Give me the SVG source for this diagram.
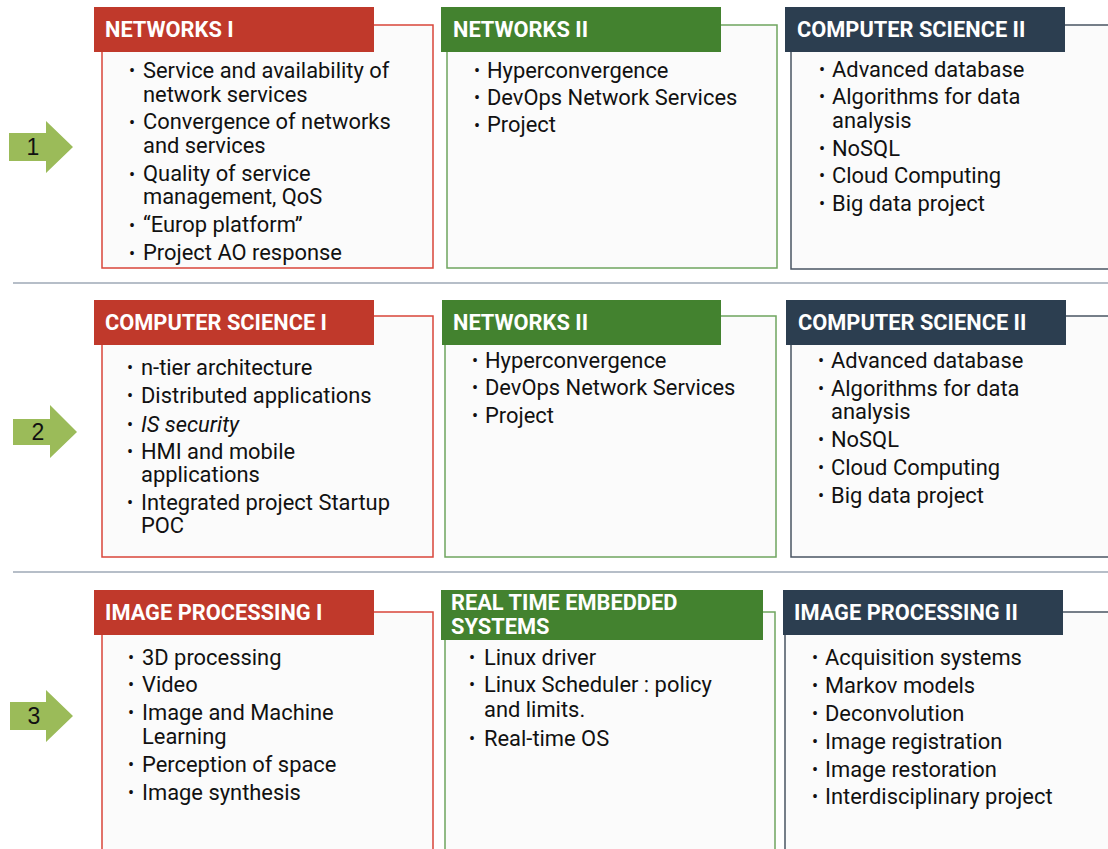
<svg xmlns="http://www.w3.org/2000/svg" width="1108" height="849" viewBox="0 0 1108 849">
<style>
.box{fill:#fbfbfb;stroke-width:1.5}
.red{stroke:#d9453a}
.grn{stroke:#6fa55f}
.nav{stroke:#4a5563}
.hr{fill:#c0392b}
.hg{fill:#43822f}
.hn{fill:#2c3e50}
.ht{font-family:Roboto,"Liberation Sans",sans-serif;font-weight:bold;font-size:21.8px;fill:#ffffff}
.t{font-family:Roboto,"Liberation Sans",sans-serif;font-size:21.9px;fill:#111111}
.b{font-family:Roboto,"Liberation Sans",sans-serif;font-size:18px;fill:#111111}
.arr{fill:#9bbb59}
.num{font-family:"Liberation Sans",Arial,sans-serif;font-size:23px;fill:#111111}
.sep{stroke:#9ea8b6;stroke-width:1.5}
</style>
<rect width="1108" height="849" fill="#ffffff"/>
<g id="separators">
<line class="sep" x1="13" y1="283" x2="1108" y2="283"/>
<line class="sep" x1="13" y1="572" x2="1108" y2="572"/>
</g>
<g id="arrow1">
<polygon class="arr" points="9,133 46,133 46,121 73,147 46,173 46,161 9,161"/>
<text class="num" x="33" y="155" text-anchor="middle">1</text>
</g>
<g id="arrow2">
<polygon class="arr" points="13,419 50,419 50,405 77,432 50,458 50,445 13,445"/>
<text class="num" x="38" y="440" text-anchor="middle">2</text>
</g>
<g id="arrow3">
<polygon class="arr" points="10,702 46,702 46,690 73,716 46,742 46,730 10,730"/>
<text class="num" x="34" y="724" text-anchor="middle">3</text>
</g>
<g id="networks1">
<rect class="box red" x="102" y="25" width="331" height="243"/>
<rect class="hr" x="94" y="7" width="280" height="45"/>
<text class="ht" x="105" y="37">NETWORKS I</text>
<g class="b"><text x="129" y="77">•</text><text x="129" y="129">•</text><text x="129" y="181">•</text><text x="129" y="232">•</text><text x="129" y="260">•</text></g>
<text class="t" x="143" y="78">Service and availability of</text>
<text class="t" x="143" y="102">network services</text>
<text class="t" x="143" y="129">Convergence of networks</text>
<text class="t" x="143" y="153">and services</text>
<text class="t" x="143" y="181">Quality of service</text>
<text class="t" x="143" y="204">management, QoS</text>
<text class="t" x="143" y="232">“Europ platform”</text>
<text class="t" x="143" y="260">Project AO response</text>
</g>
<g id="networks2-row1">
<rect class="box grn" x="447" y="25" width="330" height="243"/>
<rect class="hg" x="441" y="7" width="280" height="45"/>
<text class="ht" x="453" y="37">NETWORKS II</text>
<g class="b"><text x="474" y="77">•</text><text x="474" y="104">•</text><text x="474" y="132">•</text></g>
<text class="t" x="487" y="78">Hyperconvergence</text>
<text class="t" x="487" y="105">DevOps Network Services</text>
<text class="t" x="487" y="132">Project</text>
</g>
<g id="cs2-row1">
<rect class="box nav" x="791" y="25" width="330" height="244"/>
<rect class="hn" x="785" y="7" width="280" height="45"/>
<text class="ht" x="797" y="37">COMPUTER SCIENCE II</text>
<g class="b"><text x="819" y="76">•</text><text x="819" y="103">•</text><text x="819" y="155">•</text><text x="819" y="182">•</text><text x="819" y="210">•</text></g>
<text class="t" x="832" y="77">Advanced database</text>
<text class="t" x="832" y="104">Algorithms for data</text>
<text class="t" x="832" y="128">analysis</text>
<text class="t" x="832" y="156">NoSQL</text>
<text class="t" x="832" y="183">Cloud Computing</text>
<text class="t" x="832" y="211">Big data project</text>
</g>
<g id="cs1">
<rect class="box red" x="102" y="316" width="331" height="241"/>
<rect class="hr" x="94" y="300" width="280" height="45"/>
<text class="ht" x="105" y="330">COMPUTER SCIENCE I</text>
<g class="b"><text x="127" y="374">•</text><text x="127" y="402">•</text><text x="127" y="431">•</text><text x="127" y="458">•</text><text x="127" y="509">•</text></g>
<text class="t" x="141" y="375">n-tier architecture</text>
<text class="t" x="141" y="403">Distributed applications</text>
<text class="t" x="141" y="432" font-style="italic">IS security</text>
<text class="t" x="141" y="459">HMI and mobile</text>
<text class="t" x="141" y="482">applications</text>
<text class="t" x="141" y="510">Integrated project Startup</text>
<text class="t" x="141" y="533">POC</text>
</g>
<g id="networks2-row2">
<rect class="box grn" x="445" y="316" width="331" height="241"/>
<rect class="hg" x="442" y="300" width="279" height="45"/>
<text class="ht" x="453" y="330">NETWORKS II</text>
<g class="b"><text x="472" y="367">•</text><text x="472" y="394">•</text><text x="472" y="422">•</text></g>
<text class="t" x="485" y="368">Hyperconvergence</text>
<text class="t" x="485" y="395">DevOps Network Services</text>
<text class="t" x="485" y="423">Project</text>
</g>
<g id="cs2-row2">
<rect class="box nav" x="791" y="316" width="330" height="241"/>
<rect class="hn" x="786" y="300" width="280" height="45"/>
<text class="ht" x="798" y="330">COMPUTER SCIENCE II</text>
<g class="b"><text x="818" y="367">•</text><text x="818" y="395">•</text><text x="818" y="446">•</text><text x="818" y="474">•</text><text x="818" y="502">•</text></g>
<text class="t" x="831" y="368">Advanced database</text>
<text class="t" x="831" y="396">Algorithms for data</text>
<text class="t" x="831" y="419">analysis</text>
<text class="t" x="831" y="447">NoSQL</text>
<text class="t" x="831" y="475">Cloud Computing</text>
<text class="t" x="831" y="503">Big data project</text>
</g>
<g id="imageprocessing1">
<rect class="box red" x="102" y="612" width="331" height="260"/>
<rect class="hr" x="94" y="590" width="280" height="45"/>
<text class="ht" x="105" y="620">IMAGE PROCESSING I</text>
<g class="b"><text x="128" y="664">•</text><text x="128" y="691">•</text><text x="128" y="719">•</text><text x="128" y="771">•</text><text x="128" y="799">•</text></g>
<text class="t" x="142" y="665">3D processing</text>
<text class="t" x="142" y="692">Video</text>
<text class="t" x="142" y="720">Image and Machine</text>
<text class="t" x="142" y="744">Learning</text>
<text class="t" x="142" y="772">Perception of space</text>
<text class="t" x="142" y="800">Image synthesis</text>
</g>
<g id="realtime">
<rect class="box grn" x="445" y="612" width="330" height="260"/>
<rect class="hg" x="441" y="590" width="322" height="50"/>
<text class="ht" x="451" y="610">REAL TIME EMBEDDED</text>
<text class="ht" x="451" y="634">SYSTEMS</text>
<g class="b"><text x="469" y="664">•</text><text x="469" y="691">•</text><text x="469" y="745">•</text></g>
<text class="t" x="484" y="665">Linux driver</text>
<text class="t" x="484" y="692">Linux Scheduler : policy</text>
<text class="t" x="484" y="717">and limits.</text>
<text class="t" x="484" y="746">Real-time OS</text>
</g>
<g id="imageprocessing2">
<rect class="box nav" x="785" y="612" width="340" height="260"/>
<rect class="hn" x="783" y="590" width="280" height="45"/>
<text class="ht" x="794" y="620">IMAGE PROCESSING II</text>
<g class="b"><text x="812" y="664">•</text><text x="812" y="692">•</text><text x="812" y="720">•</text><text x="812" y="748">•</text><text x="812" y="776">•</text><text x="812" y="803">•</text></g>
<text class="t" x="825" y="665">Acquisition systems</text>
<text class="t" x="825" y="693">Markov models</text>
<text class="t" x="825" y="721">Deconvolution</text>
<text class="t" x="825" y="749">Image registration</text>
<text class="t" x="825" y="777">Image restoration</text>
<text class="t" x="825" y="804">Interdisciplinary project</text>
</g>
</svg>
